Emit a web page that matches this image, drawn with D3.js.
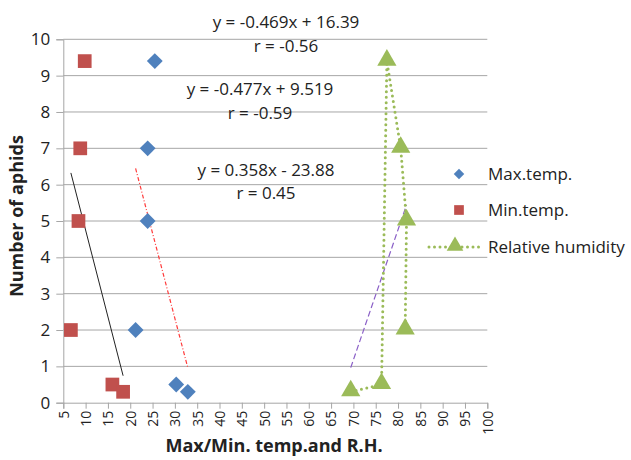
<!DOCTYPE html>
<html><head><meta charset="utf-8">
<script src="https://cdn.jsdelivr.net/npm/d3@7"></script>
<style>body{margin:0;background:#fff}</style>
</head><body>
<svg id="c" width="631" height="460"></svg>
<script>
const maxTemp = [[25.5,9.4],[23.9,7],[23.9,5],[21.2,2],[30.3,0.5],[32.9,0.3]];
const minTemp = [[9.8,9.4],[8.8,7],[8.4,5],[6.7,2],[16,0.5],[18.4,0.3]];
const humidity = [[69.4,0.3],[76.3,0.5],[77.5,9.4],[80.6,7],[81.9,5],[81.6,2]];
const trendMax = {slope:-0.469, intercept:16.39, r:-0.56};
const trendMin = {slope:-0.477, intercept:9.519, r:-0.59};
const trendRH = {slope:0.358, intercept:-23.88, r:0.45};
const xTicks = d3.range(5,101,5);
const yTicks = d3.range(0,11,1);

const svg = d3.select('#c');
const font = '"Open Sans", "Liberation Sans", sans-serif';
const x = d3.scaleLinear().domain([5,100]).range([63.3,487.3]);
const y = d3.scaleLinear().domain([0,10]).range([402.7,39.3]);
const grid = '#a6a6a6';

// gridlines
svg.append('g').selectAll('line').data(yTicks.filter(d=>d>0)).join('line')
  .attr('x1',x(5)).attr('x2',x(100)).attr('y1',d=>y(d)).attr('y2',d=>y(d))
  .attr('stroke',grid).attr('stroke-width',1);

// axes
const ya = svg.append('g').attr('transform',`translate(${x(5)},0)`)
  .call(d3.axisLeft(y).tickValues(yTicks).tickSize(7).tickPadding(6));
const xa = svg.append('g').attr('transform',`translate(0,${y(0)})`)
  .call(d3.axisBottom(x).tickValues(xTicks).tickSize(6).tickPadding(4));
[ya,xa].forEach(a=>{
  a.select('.domain').attr('stroke',grid);
  a.selectAll('.tick line').attr('stroke',grid);
  a.selectAll('text').attr('fill','#222').style('font-family',font);
});
ya.selectAll('text').style('font-size','17px');
xa.selectAll('text').style('font-size','14px')
  .attr('transform','rotate(-90)').attr('text-anchor','end')
  .attr('x',-8).attr('y',0).attr('dy','0.35em');

// axis titles
svg.append('text').attr('x',274).attr('y',452).attr('text-anchor','middle')
  .style('font-family',font).style('font-size','18px').style('font-weight','bold')
  .attr('fill','#222').text('Max/Min. temp.and R.H.');
svg.append('text').attr('transform','translate(23,216) rotate(-90)').attr('text-anchor','middle')
  .style('font-family',font).style('font-size','18px').style('font-weight','bold')
  .attr('fill','#222').text('Number of aphids');

// trend lines
function trend(t,data,stroke,dash,w){
  const xs = d3.extent(data,d=>d[0]);
  svg.append('line').attr('x1',x(xs[0])).attr('x2',x(xs[1]))
    .attr('y1',y(t.slope*xs[0]+t.intercept)).attr('y2',y(t.slope*xs[1]+t.intercept))
    .attr('stroke',stroke).attr('stroke-width',w).attr('stroke-dasharray',dash);
}
trend(trendMin,minTemp,'#222','none',1);
trend(trendMax,maxTemp,'#ff3b3b','4,2,1,2',1.2);
trend(trendRH,humidity,'#8a5fc7','6,3',1.2);

// RH dotted line
const line = d3.line().x(d=>x(d[0])).y(d=>y(d[1]));
svg.append('path').attr('d',line(humidity)).attr('fill','none')
  .attr('stroke','#9bbb59').attr('stroke-width',3).attr('stroke-linecap','round')
  .attr('stroke-dasharray','0,5.5');

// markers
const diamond = d3.symbol().type(d3.symbolDiamond2).size(160);
const square = d3.symbol().type(d3.symbolSquare2).size(240);
const tri = d3.symbol().type(d3.symbolTriangle).size(160);
svg.append('g').selectAll('path').data(maxTemp).join('path')
  .attr('d',diamond).attr('transform',d=>`translate(${x(d[0])},${y(d[1])})`).attr('fill','#4f81bd');
svg.append('g').selectAll('path').data(minTemp).join('path')
  .attr('d',square).attr('transform',d=>`translate(${x(d[0])},${y(d[1])})`).attr('fill','#c0504d');
svg.append('g').selectAll('path').data(humidity).join('path')
  .attr('d',tri).attr('transform',d=>`translate(${x(d[0])},${y(d[1])-1})`).attr('fill','#9bbb59');

// equation labels
function eqText(t){
  const sign = t.intercept<0 ? '- ' : '+ ';
  return `y = ${t.slope}x ${sign}${Math.abs(t.intercept)}`;
}
const labels = [
  [trendMax,286,22,46],
  [trendMin,260,89,113],
  [trendRH,266,170,193]
];
labels.forEach(([t,cx,y1,y2])=>{
  svg.append('text').attr('x',cx).attr('y',y1).attr('dy','0.35em').attr('text-anchor','middle')
    .style('font-family',font).style('font-size','17px').attr('fill','#222').text(eqText(t));
  svg.append('text').attr('x',cx).attr('y',y2).attr('dy','0.35em').attr('text-anchor','middle')
    .style('font-family',font).style('font-size','17px').attr('fill','#222').text('r = '+t.r.toFixed(2));
});

// legend
const lg = svg.append('g');
const items = [['Max.temp.',174],['Min.temp.',210],['Relative humidity',247]];
lg.append('path').attr('d',d3.symbol().type(d3.symbolDiamond2).size(70)).attr('transform','translate(459,174)').attr('fill','#4f81bd');
lg.append('path').attr('d',d3.symbol().type(d3.symbolSquare2).size(120)).attr('transform','translate(459,210)').attr('fill','#c0504d');
lg.append('line').attr('x1',429).attr('x2',480).attr('y1',247).attr('y2',247)
  .attr('stroke','#9bbb59').attr('stroke-width',3).attr('stroke-linecap','round').attr('stroke-dasharray','0,5.5');
lg.append('path').attr('d',d3.symbol().type(d3.symbolTriangle).size(120)).attr('transform','translate(455,246)').attr('fill','#9bbb59');
items.forEach(([t,yy])=>{
  lg.append('text').attr('x',488).attr('y',yy).attr('dy','0.35em')
    .style('font-family',font).style('font-size','17px').attr('fill','#222').text(t);
});
</script>
</body></html>
